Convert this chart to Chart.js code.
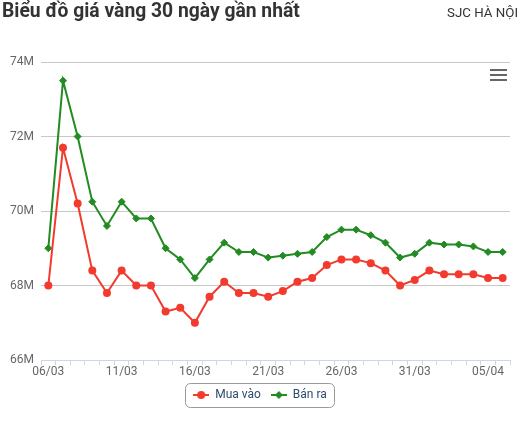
<!DOCTYPE html>
<html>
<head>
<meta charset="utf-8">
<script src="https://cdn.jsdelivr.net/npm/chart.js@4"></script>
<style>
  html, body { margin:0; padding:0; background:#fff; }
  #wrap { position:relative; width:520px; height:423px; overflow:hidden; font-family: Roboto, "Noto Sans", sans-serif; }
  #title { position:absolute; left:2px; top:-0.5px; font-size:19.3px; font-weight:bold; line-height:22px; color:#333; white-space:nowrap; }
  #sub { position:absolute; right:2px; top:1.5px; font-size:13.3px; line-height:22px; color:#333; white-space:nowrap; }
  #menu { position:absolute; left:490px; top:68px; width:17px; height:14px; }
  #menu div { position:absolute; left:0; width:17px; height:2.2px; background:#666; }
  #cv { position:absolute; left:0; top:0; }
</style>
</head>
<body>
<div id="wrap">
  <canvas id="cv" width="520" height="423"></canvas>
  <div id="title">Biểu đồ giá vàng 30 ngày gần nhất</div>
  <div id="sub">SJC HÀ NỘI</div>
  <div id="menu"><div style="top:0.5px"></div><div style="top:5.5px"></div><div style="top:10.5px"></div></div>
</div>
<script>
const dates = ['06/03','07/03','08/03','09/03','10/03','11/03','12/03','13/03','14/03','15/03',
               '16/03','17/03','18/03','19/03','20/03','21/03','22/03','23/03','24/03','25/03',
               '26/03','27/03','28/03','29/03','30/03','31/03','01/04','02/04','03/04','04/04',
               '05/04','06/04'];
const buyValues = [68.0, 71.7, 70.2, 68.4, 67.8, 68.4, 68.0, 68.0, 67.3, 67.4,
                   67.0, 67.7, 68.1, 67.8, 67.8, 67.7, 67.85, 68.1, 68.2, 68.55,
                   68.7, 68.7, 68.6, 68.4, 68.0, 68.15, 68.4, 68.3, 68.3, 68.3,
                   68.2, 68.2];
const sellValues = [69.0, 73.5, 72.0, 70.25, 69.6, 70.25, 69.8, 69.8, 69.0, 68.7,
                    68.2, 68.7, 69.15, 68.9, 68.9, 68.75, 68.8, 68.85, 68.9, 69.3,
                    69.5, 69.5, 69.35, 69.15, 68.75, 68.85, 69.15, 69.1, 69.1, 69.05,
                    68.9, 68.9];
const seriesNames = ['Mua vào', 'Bán ra'];
const yTicks = [66, 68, 70, 72, 74];
const labelEvery = 5;

const RED = '#f23a2e';
const GREEN = '#228b22';

function legendSymbol(color, style) {
  const c = document.createElement('canvas');
  c.width = 16; c.height = 10;
  const g = c.getContext('2d');
  g.strokeStyle = color; g.lineWidth = 2;
  g.beginPath(); g.moveTo(0, 5); g.lineTo(16, 5); g.stroke();
  g.fillStyle = color;
  g.beginPath();
  if (style === 'circle') { g.arc(8, 5, 4, 0, Math.PI * 2); }
  else { g.moveTo(4, 5); g.lineTo(8, 1); g.lineTo(12, 5); g.lineTo(8, 9); g.closePath(); }
  g.fill();
  return c;
}
const symbols = [legendSymbol(RED, 'circle'), legendSymbol(GREEN, 'diamond')];

const legendBox = {
  id: 'legendBox',
  afterDraw(chart) {
    const lg = chart.legend;
    if (!lg || !lg.legendHitBoxes || !lg.legendHitBoxes.length) return;
    const hb = lg.legendHitBoxes;
    const first = hb[0], last = hb[hb.length - 1];
    const cy = first.top + first.height / 2;
    const x0 = first.left - 8, x1 = last.left + last.width + 7;
    const y0 = cy - 12.5, h = 24;
    const ctx = chart.ctx;
    ctx.save();
    ctx.strokeStyle = '#999';
    ctx.lineWidth = 1;
    ctx.beginPath();
    ctx.roundRect(Math.round(x0) + 0.5, Math.round(y0) + 0.5, Math.round(x1 - x0), h, 5);
    ctx.stroke();
    ctx.restore();
  }
};

new Chart(document.getElementById('cv'), {
  type: 'line',
  data: {
    labels: dates,
    datasets: [
      { label: seriesNames[0], data: buyValues, borderColor: RED, backgroundColor: RED,
        borderWidth: 2, pointStyle: 'circle', pointRadius: 4, pointBorderWidth: 0, tension: 0 },
      { label: seriesNames[1], data: sellValues, borderColor: GREEN, backgroundColor: GREEN,
        borderWidth: 2, pointStyle: 'rectRot', pointRadius: 3.5, pointBorderWidth: 1, tension: 0 }
    ]
  },
  options: {
    responsive: false,
    animation: false,
    devicePixelRatio: 1,
    layout: { padding: { top: 62, left: 10, right: 10, bottom: 12 } },
    plugins: {
      tooltip: { enabled: false },
      title: { display: false },
      legend: {
        position: 'bottom',
        labels: {
          usePointStyle: true,
          pointStyleWidth: 16,
          padding: 10,
          color: '#2d4b6e',
          font: { family: 'Roboto', size: 12 },
          generateLabels(chart) {
            const items = Chart.defaults.plugins.legend.labels.generateLabels(chart);
            items.forEach((it, i) => { it.pointStyle = symbols[i]; });
            return items;
          }
        }
      }
    },
    scales: {
      x: {
        type: 'category',
        offset: true,
        border: { display: true, color: '#ccd6eb', width: 1 },
        grid: { display: true, offset: true, drawOnChartArea: false, drawTicks: true, tickLength: 5, color: '#ccd6eb' },
        ticks: {
          autoSkip: false, maxRotation: 0, minRotation: 0, padding: 0,
          color: '#666', font: { family: 'Roboto', size: 12 },
          callback: (v, i) => (i % labelEvery === 0 ? dates[i] : '')
        },
        afterFit(s) { s.height = 19; }
      },
      y: {
        min: yTicks[0], max: yTicks[yTicks.length - 1],
        afterBuildTicks(s) { s.ticks = yTicks.map(v => ({ value: v })); },
        border: { display: false },
        grid: { color: '#c8c8c8', drawTicks: false, lineWidth: 1 },
        ticks: { padding: 7, color: '#666', font: { family: 'Roboto', size: 12 }, callback: v => v + 'M' },
        afterFit(s) { s.width = 31; }
      }
    }
  },
  plugins: [legendBox]
});
</script>
</body>
</html>
